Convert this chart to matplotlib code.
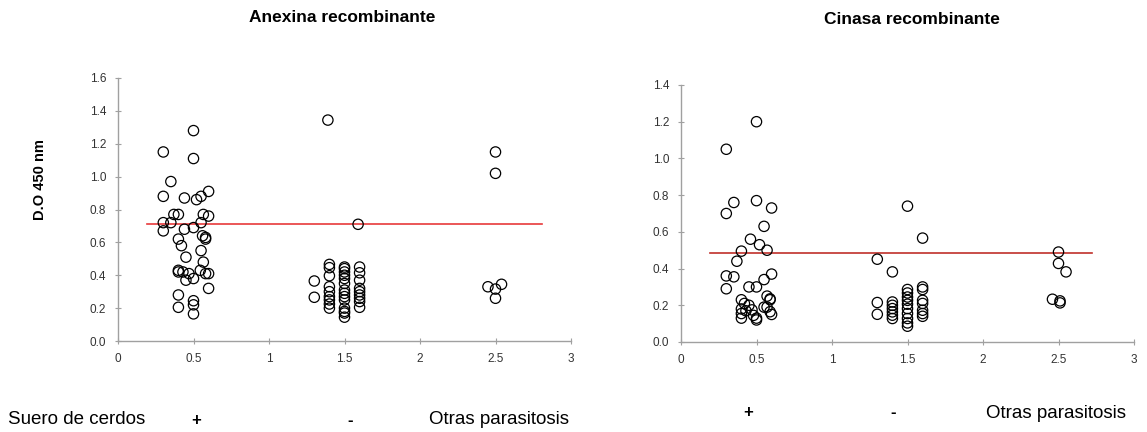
# Scatter of D.O 450 nm values for two recombinant antigens
import matplotlib
matplotlib.use("Agg")
import matplotlib.pyplot as plt

# --- Anexina recombinante ---
anx_pos_x = [0.5, 0.3, 0.5, 0.35, 0.3, 0.44, 0.52, 0.55, 0.6, 0.37, 0.4, 0.565, 0.6, 0.3,
             0.35, 0.3, 0.44, 0.5, 0.55, 0.56, 0.58, 0.58, 0.4, 0.42, 0.45, 0.55, 0.565, 0.4,
             0.4, 0.43, 0.47, 0.45, 0.5, 0.545, 0.58, 0.6, 0.6, 0.4, 0.4, 0.5, 0.5, 0.5]
anx_pos_y = [1.28, 1.15, 1.11, 0.97, 0.88, 0.87, 0.86, 0.88, 0.91, 0.77, 0.77, 0.77, 0.76, 0.72,
             0.72, 0.67, 0.68, 0.69, 0.72, 0.64, 0.63, 0.62, 0.62, 0.58, 0.51, 0.55, 0.48, 0.43,
             0.42, 0.42, 0.41, 0.37, 0.38, 0.43, 0.41, 0.41, 0.32, 0.28, 0.205, 0.245, 0.22, 0.165]
anx_neg_x = [1.39, 1.59, 1.3, 1.3,
             1.4, 1.4, 1.4, 1.4, 1.4, 1.4, 1.4, 1.4, 1.4,
             1.5, 1.5, 1.5, 1.5, 1.5, 1.5, 1.5, 1.5, 1.5, 1.5, 1.5, 1.5, 1.5, 1.5,
             1.6, 1.6, 1.6, 1.6, 1.6, 1.6, 1.6, 1.6, 1.6]
anx_neg_y = [1.344, 0.71, 0.365, 0.266,
             0.466, 0.446, 0.397, 0.33, 0.30, 0.27, 0.25, 0.225, 0.20,
             0.45, 0.44, 0.42, 0.40, 0.38, 0.35, 0.31, 0.29, 0.27, 0.25, 0.20, 0.18, 0.17, 0.145,
             0.45, 0.415, 0.37, 0.32, 0.30, 0.28, 0.26, 0.24, 0.205]
anx_otr_x = [2.5, 2.5, 2.45, 2.5, 2.54, 2.5]
anx_otr_y = [1.15, 1.02, 0.33, 0.316, 0.345, 0.26]
anx_cutoff = 0.71

# --- Cinasa recombinante ---
cin_pos_x = [0.5, 0.3, 0.35, 0.3, 0.5, 0.6, 0.55, 0.46, 0.52, 0.57, 0.4, 0.37, 0.3, 0.35,
             0.3, 0.45, 0.5, 0.55, 0.6, 0.4, 0.42, 0.45, 0.4, 0.43, 0.4, 0.4, 0.48, 0.5,
             0.5, 0.55, 0.57, 0.59, 0.59, 0.59, 0.6, 0.47, 0.57]
cin_pos_y = [1.20, 1.05, 0.76, 0.70, 0.77, 0.73, 0.63, 0.56, 0.53, 0.50, 0.495, 0.44, 0.36, 0.355,
             0.29, 0.30, 0.30, 0.34, 0.37, 0.23, 0.21, 0.20, 0.18, 0.17, 0.155, 0.13, 0.145, 0.13,
             0.12, 0.19, 0.25, 0.235, 0.23, 0.165, 0.15, 0.175, 0.19]
cin_neg_x = [1.5, 1.6, 1.3, 1.4, 1.3, 1.3,
             1.4, 1.4, 1.4, 1.4, 1.4, 1.4,
             1.5, 1.5, 1.5, 1.5, 1.5, 1.5, 1.5, 1.5, 1.5, 1.5,
             1.6, 1.6, 1.6, 1.6, 1.6, 1.6, 1.6]
cin_neg_y = [0.74, 0.566, 0.451, 0.382, 0.215, 0.151,
             0.218, 0.20, 0.182, 0.164, 0.146, 0.128,
             0.286, 0.267, 0.245, 0.227, 0.206, 0.182, 0.155, 0.128, 0.104, 0.086,
             0.30, 0.286, 0.227, 0.21, 0.173, 0.155, 0.14]
cin_otr_x = [2.5, 2.5, 2.55, 2.46, 2.51, 2.51]
cin_otr_y = [0.49, 0.428, 0.382, 0.233, 0.224, 0.213]
cin_cutoff = 0.486

W, H = 1147, 432
fig = plt.figure(figsize=(W / 100, H / 100), dpi=100)
plt.rcParams['font.family'] = ['Liberation Sans', 'DejaVu Sans']


def style_axes(ax, ymax, ystep):
    ax.set_xlim(0, 3)
    ax.set_ylim(0, ymax)
    ax.set_xticks([0, 0.5, 1, 1.5, 2, 2.5, 3])
    ax.set_xticklabels(['0', '0.5', '1', '1.5', '2', '2.5', '3'])
    n = int(round(ymax / ystep))
    yt = [i * ystep for i in range(n + 1)]
    ax.set_yticks(yt)
    ax.set_yticklabels([f"{v:.1f}" for v in yt])
    for s in ['top', 'right']:
        ax.spines[s].set_visible(False)
    for s in ['left', 'bottom']:
        ax.spines[s].set_color('#a0a0a0')
        ax.spines[s].set_linewidth(1)
    ax.tick_params(direction='inout', length=5, color='#a0a0a0', labelsize=8.5,
                   labelcolor='#333333', pad=6)


def draw(ax, groups, cutoff, x0, x1, line_color):
    for gx, gy in groups:
        ax.scatter(gx, gy, s=55, facecolors='none', edgecolors='black', linewidths=0.9,
                   zorder=3, clip_on=False)
    ax.plot([x0, x1], [cutoff, cutoff], color=line_color, linewidth=1.2, zorder=2)


ax1 = fig.add_axes([118 / W, 1 - 341 / H, 453 / W, 263 / H])
style_axes(ax1, 1.6, 0.2)
draw(ax1, [(anx_pos_x, anx_pos_y), (anx_neg_x, anx_neg_y), (anx_otr_x, anx_otr_y)],
     anx_cutoff, 0.19, 2.81, '#e8393b')

ax2 = fig.add_axes([681 / W, 1 - 342 / H, 453 / W, 257 / H])
style_axes(ax2, 1.4, 0.2)
draw(ax2, [(cin_pos_x, cin_pos_y), (cin_neg_x, cin_neg_y), (cin_otr_x, cin_otr_y)],
     cin_cutoff, 0.19, 2.72, '#c0302a')

# titles and labels
fig.text(342 / W, 1 - 17 / H, 'Anexina recombinante', ha='center', va='center',
         fontsize=12.5, fontweight='bold')
fig.text(912 / W, 1 - 20 / H, 'Cinasa recombinante', ha='center', va='center',
         fontsize=12.5, fontweight='bold')
fig.text(40 / W, 1 - 180 / H, 'D.O 450 nm', rotation=90, ha='center', va='center',
         fontsize=10.5, fontweight='bold')

fig.text(8 / W, 1 - 420 / H, 'Suero de cerdos', ha='left', va='center', fontsize=13.5)
fig.text(196 / W, 1 - 420 / H, '+', ha='center', va='center', fontsize=12, fontweight='bold')
fig.text(350 / W, 1 - 420 / H, '-', ha='center', va='center', fontsize=12, fontweight='bold')
fig.text(499 / W, 1 - 420 / H, 'Otras parasitosis', ha='center', va='center', fontsize=13.5)

fig.text(748 / W, 1 - 413 / H, '+', ha='center', va='center', fontsize=12, fontweight='bold')
fig.text(893 / W, 1 - 413 / H, '-', ha='center', va='center', fontsize=12, fontweight='bold')
fig.text(1056 / W, 1 - 413 / H, 'Otras parasitosis', ha='center', va='center', fontsize=13.5)

fig.savefig('out.png', dpi=100, facecolor='white')
